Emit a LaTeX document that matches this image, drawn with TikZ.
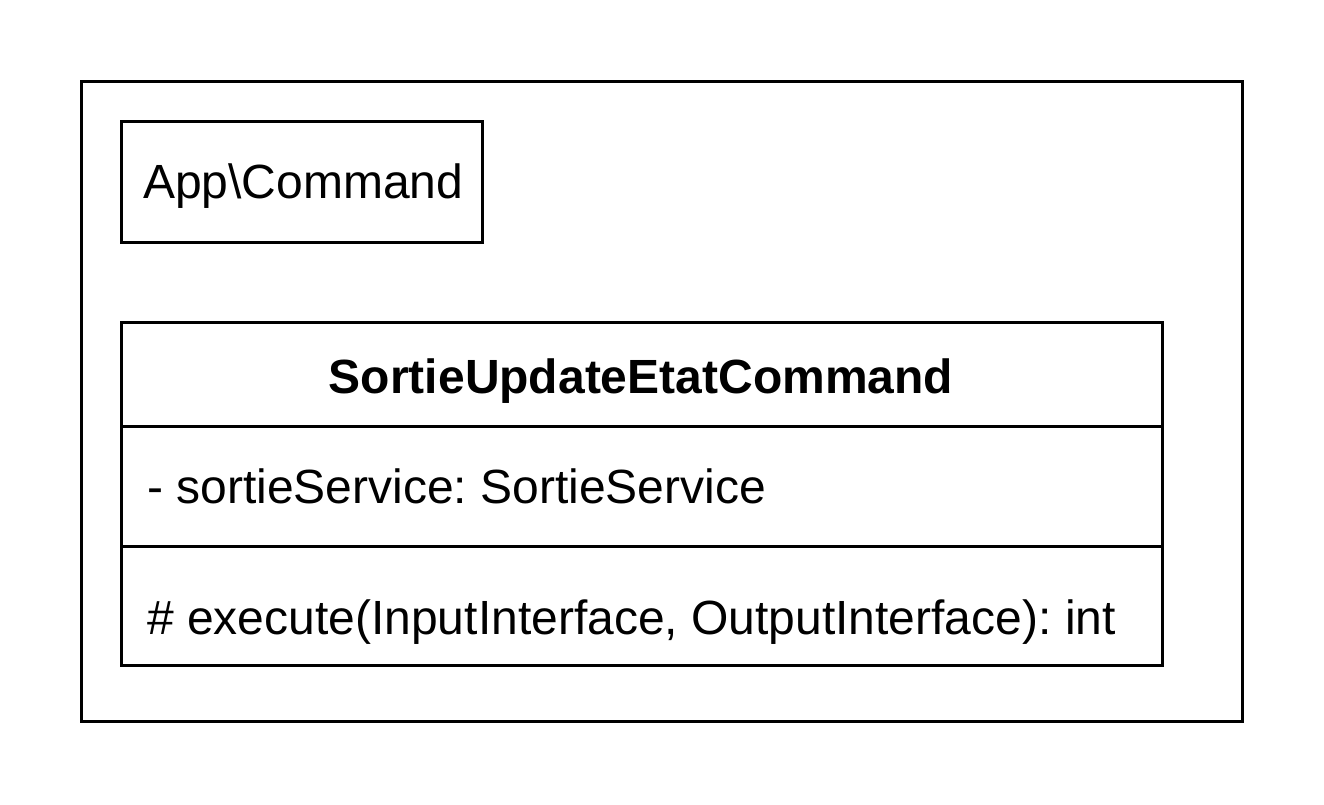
\documentclass[tikz,border=0pt]{standalone}
\usepackage{fontspec}
\setmainfont{Liberation Sans}
\frenchspacing
\begin{document}
\begin{tikzpicture}[x=1pt,y=-1pt,
  frame/.style={draw=black,line width=3pt},
  txt/.style={inner sep=0pt,font=\fontsize{48}{58}\selectfont}]
\useasboundingbox (0,0) rectangle (1324,804);
\fill[white] (0,0) rectangle (1324,804);
\draw[frame] (81,81) rectangle (1242,721);
\coordinate (pkgtl) at (121,121); \coordinate (pkgbr) at (482,242);
\draw[frame] (pkgtl) rectangle (pkgbr);
\node[txt,anchor=west] (pkglabel) at (143,186) {App\textbackslash Command};
\coordinate (clstl) at (121,322); \coordinate (clsbr) at (1162,665);
\draw[frame] (clstl) rectangle (clsbr);
\coordinate (d1l) at (121,426); \coordinate (d1r) at (1162,426);
\coordinate (d2l) at (121,546); \coordinate (d2r) at (1162,546);
\draw[frame] (d1l) -- (d1r);
\draw[frame] (d2l) -- (d2r);
\node[txt,font=\fontsize{48}{58}\selectfont\bfseries] (title) at (641,381) {SortieUpdateEtatCommand};
\node[txt,anchor=west] (attr) at (147,486) {- sortieService: SortieService};
\node[txt,anchor=west] (meth) at (147,622) {\# execute(InputInterface, OutputInterface): int};
\end{tikzpicture}
\end{document}
